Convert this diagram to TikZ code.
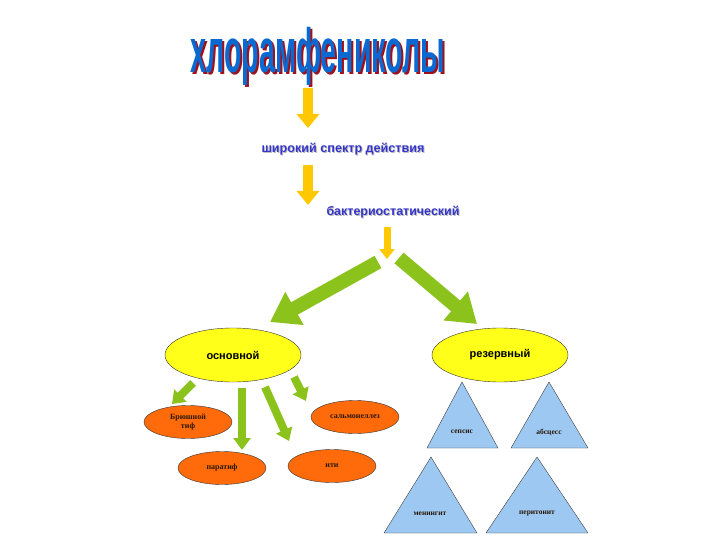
\documentclass[tikz,border=0pt]{standalone}
\usepackage{fontspec}
\setmainfont{Liberation Sans}
\newfontfamily\serifrus{Liberation Serif}
\usetikzlibrary{positioning,shapes.geometric,arrows.meta}

\definecolor{titleblue}{HTML}{0A6AD2}
\definecolor{titleshade}{HTML}{A0101A}
\definecolor{subblue}{HTML}{3535C8}
\definecolor{arrowyellow}{HTML}{FFC800}
\definecolor{arrowgreen}{HTML}{8CC21C}
\definecolor{ellyellow}{HTML}{FFFF1A}
\definecolor{ellorange}{HTML}{FF6A0A}
\definecolor{triblue}{HTML}{9CC8F2}
\definecolor{textbrown}{HTML}{2A1808}

% text with a shadow behind it
\newcommand{\shadowed}[3]{\rlap{\kern#3\raisebox{-#3}{\color{#2}#1}}#1}
\newcommand{\titleword}{\resizebox{255pt}{33pt}{\bfseries\smash{хлорамфениколы}\vphantom{x}}}

\begin{document}
\begin{tikzpicture}[x=1pt,y=-1pt,
	every node/.style={inner sep=0pt},
	subtext/.style={text=subblue,font=\bfseries},
	yarrow/.style={draw=arrowyellow,line width=10pt,-{Triangle[width=22pt,length=14pt]}},
	ysmall/.style={draw=arrowyellow,line width=7pt,-{Triangle[width=15pt,length=10pt]}},
	garrow/.style={draw=arrowgreen,line width=14pt,-{Triangle[width=36pt,length=28pt]}},
	gsmall/.style={draw=arrowgreen,line width=8pt,-{Triangle[width=17pt,length=12pt]}},
	mainell/.style={ellipse,draw=black!80,thin,fill=ellyellow,minimum width=136pt,minimum height=54pt,font=\bfseries\fontsize{11}{13}\selectfont},
	illell/.style={ellipse,draw=black!80,thin,fill=ellorange,minimum width=88pt,minimum height=33pt,text=textbrown,align=center,font=\serifrus\bfseries\fontsize{8}{9}\selectfont},
	tri/.style={draw=black!75,thin,fill=triblue},
	trilabel/.style={text=textbrown,font=\serifrus\bfseries\fontsize{7.5}{9}\selectfont}
	]
	\useasboundingbox (0,0) rectangle (720,540);
	\fill[white] (0,0) rectangle (720,540);

	% the title
	\node[text=titleblue,anchor=south] (title) at (318,75) {\shadowed{\titleword}{titleshade}{1.8pt}};

	% the properties
	\node[subtext] (spectr) at (343,150) {\shadowed{\resizebox{163pt}{!}{широкий спектр действия}}{black!25}{1pt}};
	\node[subtext] (bakt) at (393,213) {\shadowed{\resizebox{133pt}{!}{бактериостатический}}{black!25}{1pt}};

	% the two groups
	\node[mainell] (osn) at (233,355) {основной};
	\node[mainell] (rez) at (500,355) {резервный};

	% the diseases
	\node[illell] (tif) at (188,422) {Брюшной\\тиф};
	\node[illell] (paratif) at (222,468) {паратиф};
	\node[illell] (salm) at (355,417) {сальмонеллез};
	\node[illell] (iti) at (332,466) {ити};

	% the reserve cases
	\draw[tri] (462,382) -- (498,448) -- (427,448) -- cycle;
	\draw[tri] (549,382) -- (588,448) -- (511,448) -- cycle;
	\draw[tri] (431,457) -- (477,533) -- (384,533) -- cycle;
	\draw[tri] (537,457) -- (588,533) -- (486,533) -- cycle;
	\node[trilabel] (sepsis) at (462,432) {сепсис};
	\node[trilabel] (abscess) at (549,432) {абсцесс};
	\node[trilabel] (mening) at (430,514) {менингит};
	\node[trilabel] (perit) at (537,514) {перитонит};

	% the arrow ends
	\coordinate (a1) at (308,88);   \coordinate (b1) at (308,128);
	\coordinate (a2) at (308,165);  \coordinate (b2) at (308,205);
	\coordinate (a3) at (387,227);  \coordinate (b3) at (387,259);
	\coordinate (a4) at (378,262);  \coordinate (b4) at (270,322);
	\coordinate (a5) at (399,258);  \coordinate (b5) at (477,324);
	\coordinate (a6) at (193,383);  \coordinate (b6) at (172,404);
	\coordinate (a7) at (242,388);  \coordinate (b7) at (242,450);
	\coordinate (a8) at (265,387);  \coordinate (b8) at (289,441);
	\coordinate (a9) at (294,377);  \coordinate (b9) at (306,401);

	% the arrows
	\draw[yarrow] (a1) -- (b1);
	\draw[yarrow] (a2) -- (b2);
	\draw[ysmall] (a3) -- (b3);
	\draw[garrow] (a4) -- (b4);
	\draw[garrow] (a5) -- (b5);
	\draw[gsmall] (a6) -- (b6);
	\draw[gsmall] (a7) -- (b7);
	\draw[gsmall] (a8) -- (b8);
	\draw[gsmall] (a9) -- (b9);
\end{tikzpicture}
\end{document}
